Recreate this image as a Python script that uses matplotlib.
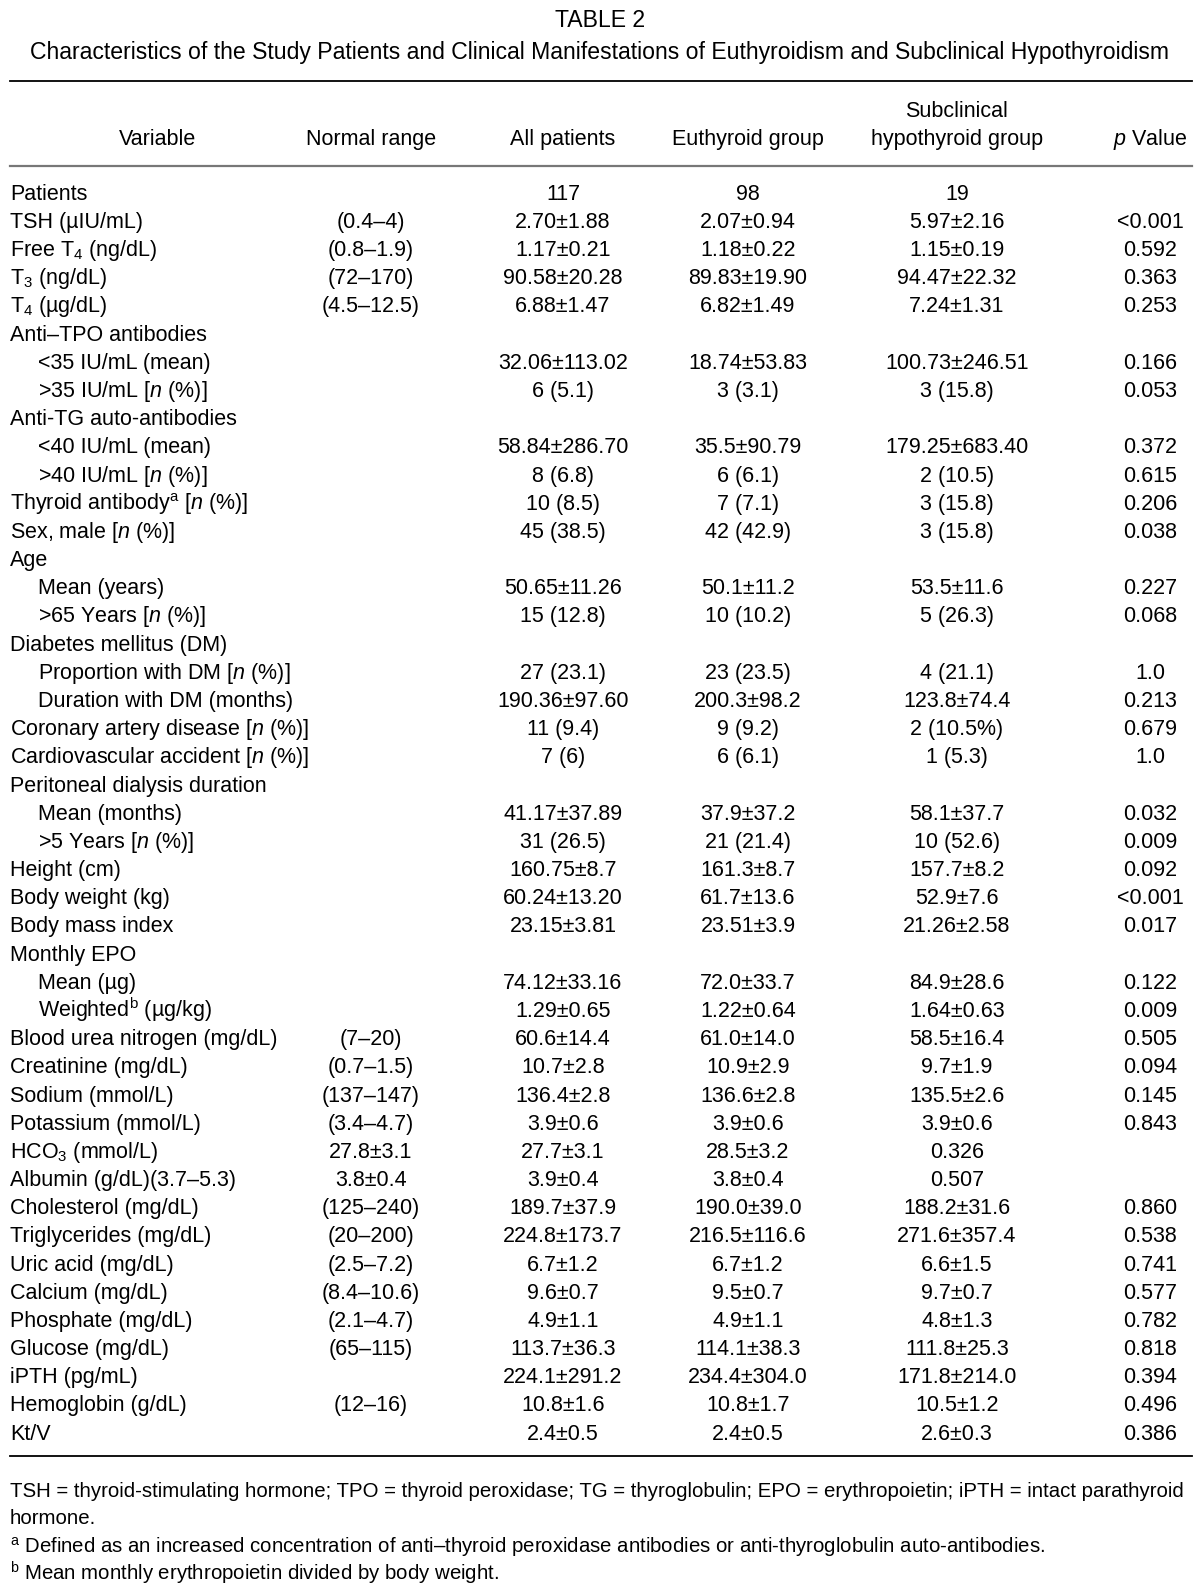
import matplotlib
matplotlib.use("Agg")
import matplotlib.pyplot as plt
from matplotlib import font_manager
from matplotlib.lines import Line2D

W, H = 1200, 1594

TITLE = "TABLE 2"
SUBTITLE = ("Characteristics of the Study Patients and Clinical Manifestations "
            "of Euthyroidism and Subclinical Hypothyroidism")

HEADERS = ["Variable", "Normal range", "All patients", "Euthyroid group",
           "Subclinical\nhypothyroid group", "$\\it{p}$ Value"]

N = "[$\\it{n}$ (%)]"
labels = [
    "Patients", "TSH (µIU/mL)", "Free T$_4$ (ng/dL)", "T$_3$ (ng/dL)", "T$_4$ (µg/dL)",
    "Anti–TPO antibodies", "<35 IU/mL (mean)", ">35 IU/mL " + N,
    "Anti-TG auto-antibodies", "<40 IU/mL (mean)", ">40 IU/mL " + N,
    "Thyroid antibody$^{\\mathrm{a}}$ " + N, "Sex, male " + N, "Age", "Mean (years)",
    ">65 Years " + N, "Diabetes mellitus (DM)", "Proportion with DM " + N,
    "Duration with DM (months)", "Coronary artery disease " + N,
    "Cardiovascular accident " + N, "Peritoneal dialysis duration", "Mean (months)",
    ">5 Years " + N, "Height (cm)", "Body weight (kg)", "Body mass index",
    "Monthly EPO", "Mean (µg)", "Weighted$^{\\mathrm{b}}$ (µg/kg)",
    "Blood urea nitrogen (mg/dL)", "Creatinine (mg/dL)", "Sodium (mmol/L)",
    "Potassium (mmol/L)", "HCO$_3$ (mmol/L)", "Albumin (g/dL)(3.7–5.3)",
    "Cholesterol (mg/dL)", "Triglycerides (mg/dL)", "Uric acid (mg/dL)",
    "Calcium (mg/dL)", "Phosphate (mg/dL)", "Glucose (mg/dL)", "iPTH (pg/mL)",
    "Hemoglobin (g/dL)", "Kt/V",
]
indented = [6, 7, 9, 10, 14, 15, 17, 18, 22, 23, 28, 29]

normal_range = [
    "", "(0.4–4)", "(0.8–1.9)", "(72–170)", "(4.5–12.5)", "", "", "", "", "", "",
    "", "", "", "", "", "", "", "", "", "", "", "", "", "", "", "", "", "", "",
    "(7–20)", "(0.7–1.5)", "(137–147)", "(3.4–4.7)", "27.8±3.1", "3.8±0.4",
    "(125–240)", "(20–200)", "(2.5–7.2)", "(8.4–10.6)", "(2.1–4.7)", "(65–115)",
    "", "(12–16)", "",
]
all_patients = [
    "117", "2.70±1.88", "1.17±0.21", "90.58±20.28", "6.88±1.47", "",
    "32.06±113.02", "6 (5.1)", "", "58.84±286.70", "8 (6.8)", "10 (8.5)",
    "45 (38.5)", "", "50.65±11.26", "15 (12.8)", "", "27 (23.1)", "190.36±97.60",
    "11 (9.4)", "7 (6)", "", "41.17±37.89", "31 (26.5)", "160.75±8.7",
    "60.24±13.20", "23.15±3.81", "", "74.12±33.16", "1.29±0.65", "60.6±14.4",
    "10.7±2.8", "136.4±2.8", "3.9±0.6", "27.7±3.1", "3.9±0.4", "189.7±37.9",
    "224.8±173.7", "6.7±1.2", "9.6±0.7", "4.9±1.1", "113.7±36.3", "224.1±291.2",
    "10.8±1.6", "2.4±0.5",
]
euthyroid = [
    "98", "2.07±0.94", "1.18±0.22", "89.83±19.90", "6.82±1.49", "",
    "18.74±53.83", "3 (3.1)", "", "35.5±90.79", "6 (6.1)", "7 (7.1)",
    "42 (42.9)", "", "50.1±11.2", "10 (10.2)", "", "23 (23.5)", "200.3±98.2",
    "9 (9.2)", "6 (6.1)", "", "37.9±37.2", "21 (21.4)", "161.3±8.7",
    "61.7±13.6", "23.51±3.9", "", "72.0±33.7", "1.22±0.64", "61.0±14.0",
    "10.9±2.9", "136.6±2.8", "3.9±0.6", "28.5±3.2", "3.8±0.4", "190.0±39.0",
    "216.5±116.6", "6.7±1.2", "9.5±0.7", "4.9±1.1", "114.1±38.3", "234.4±304.0",
    "10.8±1.7", "2.4±0.5",
]
subclinical = [
    "19", "5.97±2.16", "1.15±0.19", "94.47±22.32", "7.24±1.31", "",
    "100.73±246.51", "3 (15.8)", "", "179.25±683.40", "2 (10.5)", "3 (15.8)",
    "3 (15.8)", "", "53.5±11.6", "5 (26.3)", "", "4 (21.1)", "123.8±74.4",
    "2 (10.5%)", "1 (5.3)", "", "58.1±37.7", "10 (52.6)", "157.7±8.2",
    "52.9±7.6", "21.26±2.58", "", "84.9±28.6", "1.64±0.63", "58.5±16.4",
    "9.7±1.9", "135.5±2.6", "3.9±0.6", "0.326", "0.507", "188.2±31.6",
    "271.6±357.4", "6.6±1.5", "9.7±0.7", "4.8±1.3", "111.8±25.3", "171.8±214.0",
    "10.5±1.2", "2.6±0.3",
]
p_values = [
    "", "<0.001", "0.592", "0.363", "0.253", "", "0.166", "0.053", "", "0.372",
    "0.615", "0.206", "0.038", "", "0.227", "0.068", "", "1.0", "0.213", "0.679",
    "1.0", "", "0.032", "0.009", "0.092", "<0.001", "0.017", "", "0.122", "0.009",
    "0.505", "0.094", "0.145", "0.843", "", "", "0.860", "0.538", "0.741",
    "0.577", "0.782", "0.818", "0.394", "0.496", "0.386",
]

FOOTNOTES = [
    "TSH = thyroid-stimulating hormone; TPO = thyroid peroxidase; TG = thyroglobulin; "
    "EPO = erythropoietin; iPTH = intact parathyroid",
    "hormone.",
    "$^{\\mathrm{a}}$ Defined as an increased concentration of anti–thyroid peroxidase "
    "antibodies or anti-thyroglobulin auto-antibodies.",
    "$^{\\mathrm{b}}$ Mean monthly erythropoietin divided by body weight.",
]


def pick_font(names):
    for name in names:
        try:
            font_manager.findfont(name, fallback_to_default=False)
            return name
        except ValueError:
            continue
    return "DejaVu Sans"


BODY = pick_font(["Liberation Sans", "Noto Sans"])
NARROW = pick_font(["Liberation Sans Narrow", "DejaVu Sans Condensed", BODY])

plt.rcParams["font.family"] = [BODY, "DejaVu Sans"]
plt.rcParams["mathtext.fontset"] = "custom"
plt.rcParams["mathtext.rm"] = BODY
plt.rcParams["mathtext.it"] = BODY + ":italic"
plt.rcParams["mathtext.bf"] = BODY + ":bold"

SIZE = 15.5
TITLE_SIZE = 16.6
CAP = 0.72 * SIZE * 100 / 72  # cap height in pixels

fig = plt.figure(figsize=(W / 100, H / 100), dpi=100)
fig.patch.set_facecolor("white")


def put(x, y, s, ha="left", size=SIZE, family=None, **kw):
    # y is the vertical centre of the capitals, in pixels from the top
    return fig.text(x / W, 1 - (y + CAP / 2) / H, s, ha=ha, va="baseline",
                    fontsize=size, family=family or [BODY, "DejaVu Sans"],
                    color="black", **kw)


def hline(y, x0=10, x1=1192, color="black", lw=1.3):
    fig.add_artist(Line2D([x0 / W, x1 / W], [1 - y / H] * 2, color=color, lw=lw))


put(600, 19, TITLE, ha="center", size=TITLE_SIZE)
put(600, 51, SUBTITLE, ha="center", size=TITLE_SIZE)
hline(81)

col_x = [158, 371, 563, 748, 957, 1150]
for i, h in enumerate(HEADERS):
    if "\n" in h:
        top, bottom = h.split("\n")
        put(col_x[i], 109, top, ha="center")
        put(col_x[i], 137, bottom, ha="center")
    else:
        put(col_x[i], 137, h, ha="center")
hline(166, color="#777777", lw=1.6)

ROW0, STEP = 192, 28.18
for r, lab in enumerate(labels):
    y = ROW0 + r * STEP
    put(38.5 if r in indented else 10, y, lab)
    for c, col in enumerate([normal_range, all_patients, euthyroid, subclinical, p_values]):
        if col[r]:
            put(col_x[c + 1], y, col[r], ha="center")

hline(ROW0 + len(labels) * STEP - 4)

renderer = fig.canvas.get_renderer()
foot_y = [1489, 1516, 1545, 1573]
foot_texts = [put(10, y, text, family=[NARROW, "DejaVu Sans"])
              for text, y in zip(FOOTNOTES, foot_y)]
# squeeze the first footnote line to the table width, others follow
w = foot_texts[0].get_window_extent(renderer).width
foot_size = SIZE * 1170 / w
for t in foot_texts:
    t.set_fontsize(foot_size)

fig.savefig("out.png", dpi=100, facecolor="white")
